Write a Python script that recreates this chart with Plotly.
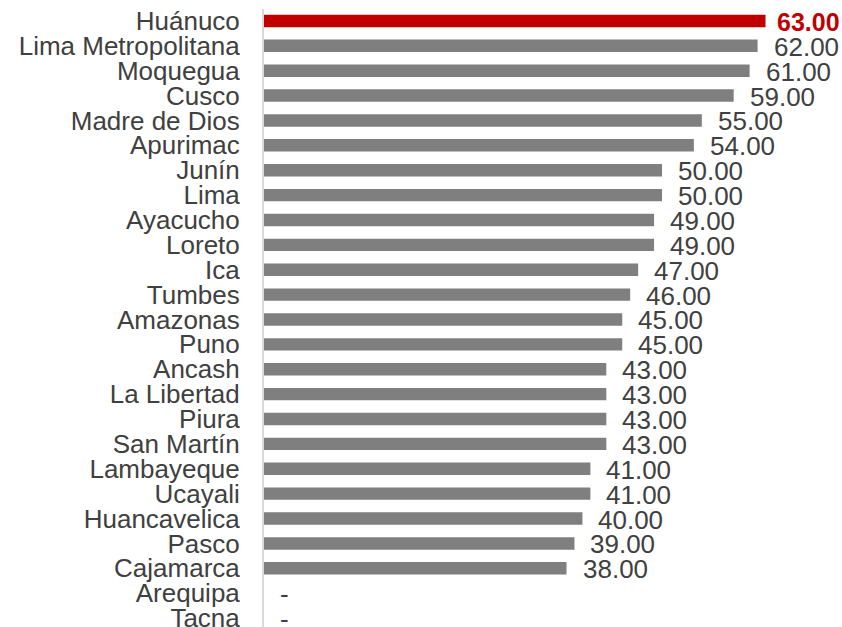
import plotly.graph_objects as go

regions = ["Huánuco", "Lima Metropolitana", "Moquegua", "Cusco", "Madre de Dios",
           "Apurimac", "Junín", "Lima", "Ayacucho", "Loreto", "Ica", "Tumbes",
           "Amazonas", "Puno", "Ancash", "La Libertad", "Piura", "San Martín",
           "Lambayeque", "Ucayali", "Huancavelica", "Pasco", "Cajamarca",
           "Arequipa", "Tacna"]
values = [63, 62, 61, 59, 55, 54, 50, 50, 49, 49, 47, 46, 45, 45, 43, 43, 43, 43,
          41, 41, 40, 39, 38, 0, 0]
highlight = "Huánuco"

RED = "#c00000"
GRAY = "#7f7f7f"
TEXT = "#404040"
FONT = "Liberation Sans, Arial, sans-serif"
FS = 26

colors = [RED if r == highlight else GRAY for r in regions]

fig = go.Figure(go.Bar(
    x=values, y=regions, orientation="h",
    marker=dict(color=colors, line=dict(width=0)),
    width=0.5, hoverinfo="skip",
))

annotations = []
for r, v in zip(regions, values):
    label = f"{v:.2f}" if v != 0 else "-"
    is_h = r == highlight
    annotations.append(dict(
        x=v, y=r, xref="x", yref="y", text=f"<b>{label}</b>" if is_h else label,
        showarrow=False, xanchor="left", yanchor="middle",
        xshift=9 if is_h else 14, yshift=-1,
        font=dict(family=FONT, size=25 if is_h else FS, color=RED if is_h else TEXT),
    ))

fig.update_layout(
    width=842, height=627,
    margin=dict(l=264, r=12, t=9, b=0, autoexpand=False),
    paper_bgcolor="white", plot_bgcolor="white",
    showlegend=False,
    annotations=annotations,
    font=dict(family=FONT, size=FS, color=TEXT),
    xaxis=dict(range=[0, 71.1], visible=False, showgrid=False, zeroline=False,
               automargin=False),
    yaxis=dict(
        type="category", categoryorder="array", categoryarray=regions,
        tickmode="array", tickvals=regions, ticktext=regions,
        range=[24.36, -0.48], showgrid=False, zeroline=False, automargin=False,
        showline=True, linecolor="#d9d9d9", linewidth=2,
        ticks="outside", ticklen=0, ticklabelstandoff=17,
        tickfont=dict(family=FONT, size=FS, color=TEXT),
    ),
)

fig.write_html(
    "out.html",
    config={"displayModeBar": False},
    post_script="document.body.style.margin='0';document.body.style.overflow='hidden';",
)
